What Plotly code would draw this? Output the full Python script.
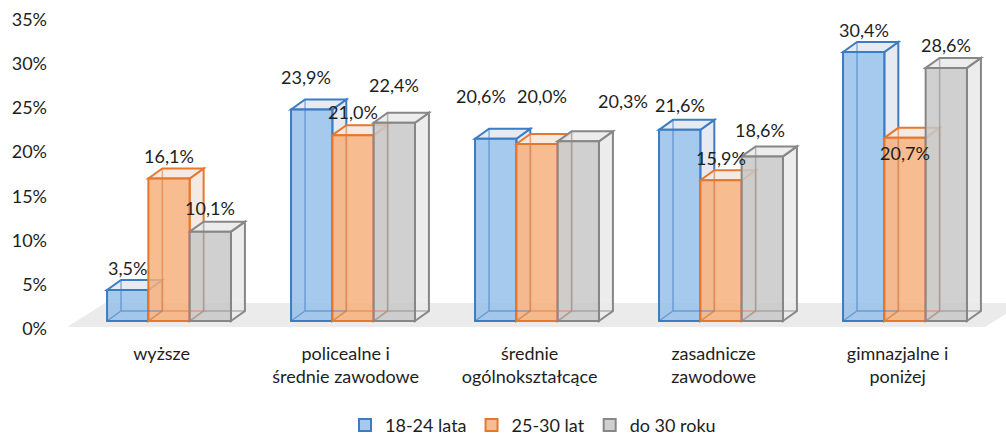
import plotly.graph_objects as go

# ---------------- data ----------------
categories = [
    "wyższe",
    "policealne i<br>średnie zawodowe",
    "średnie<br>ogólnokształcące",
    "zasadnicze<br>zawodowe",
    "gimnazjalne i<br>poniżej",
]
series_names = ["18-24 lata", "25-30 lat", "do 30 roku"]
values_18_24 = [3.5, 23.9, 20.6, 21.6, 30.4]
values_25_30 = [16.1, 21.0, 20.0, 15.9, 20.7]
values_do_30 = [10.1, 22.4, 20.3, 18.6, 28.6]
y_tick_values = [0, 5, 10, 15, 20, 25, 30, 35]

series_values = [values_18_24, values_25_30, values_do_30]

# ---------------- style ----------------
FONT = "Lato, 'Open Sans', sans-serif"
TXT = "#1e1e1e"
front_colors = ["rgba(150,192,235,0.85)", "rgba(246,176,124,0.85)", "rgba(200,200,200,0.85)"]
edge_colors = ["#3B7CC4", "#E8772E", "#878787"]
face_colors = ["rgba(228,233,240,0.9)", "rgba(244,232,224,0.9)", "rgba(234,234,234,0.9)"]
BAR_W = 0.2245        # bar width in category units
DX, DY = 0.076, 1.13  # 3D depth offset (x units, % units)
FLOOR_DX, FLOOR_DY = 0.2065, 2.71
# manual data-label offsets in pixels (as placed in the original)
label_dx = [[0, -6, -15, 0, 0], [0, 0, 5, 0, 0], [0, 0, 45, -2, 0]]
label_dy = [[22, 33, 43, 25, 22], [23, 23, 48, 22, -15], [24, 38, 40, 26, 23]]

n = len(categories)
fig = go.Figure()
shapes = []
annotations = []

# floor
fx0, fx1 = -0.554, n - 1 + 0.435
fy0 = -0.68
shapes.append(dict(
    type="path", xref="x", yref="y", layer="below",
    path=f"M {fx0},{fy0} L {fx1},{fy0} L {fx1 + FLOOR_DX},{fy0 + FLOOR_DY} "
         f"L {fx0 + FLOOR_DX},{fy0 + FLOOR_DY} Z",
    fillcolor="#EBEBEB", line=dict(width=0),
))

for k, (name, vals) in enumerate(zip(series_names, series_values)):
    off = -1.5 * BAR_W + k * BAR_W
    fig.add_trace(go.Bar(
        x=list(range(n)), y=vals, name=name,
        width=BAR_W, offset=off,
        marker=dict(color=front_colors[k], line=dict(color=edge_colors[k], width=2)),
        hoverinfo="skip",
    ))

# 3D decorations, drawn left to right inside each group
for i in range(n):
    for k, vals in enumerate(series_values):
        v = vals[i]
        x0 = i - 1.5 * BAR_W + k * BAR_W
        x1 = x0 + BAR_W
        ec = edge_colors[k]
        # side face
        shapes.append(dict(
            type="path", xref="x", yref="y", layer="below",
            path=f"M {x1},0 L {x1 + DX},{DY} L {x1 + DX},{v + DY} L {x1},{v} Z",
            fillcolor=face_colors[k], line=dict(color=ec, width=2),
        ))
        # top face
        shapes.append(dict(
            type="path", xref="x", yref="y", layer="below",
            path=f"M {x0},{v} L {x0 + DX},{v + DY} L {x1 + DX},{v + DY} L {x1},{v} Z",
            fillcolor=face_colors[k], line=dict(color=ec, width=2),
        ))
        # hidden back edges seen through the front face
        shapes.append(dict(
            type="path", xref="x", yref="y", layer="above", opacity=0.55,
            path=f"M {x0},0 L {x0 + DX},{DY} L {x1 + DX},{DY} "
                 f"M {x0 + DX},{DY} L {x0 + DX},{v + DY}",
            line=dict(color=ec, width=1.5),
        ))
        # data label
        annotations.append(dict(
            x=(x0 + x1) / 2, y=v, xref="x", yref="y",
            text=f"{v:.1f}%".replace(".", ","), showarrow=False,
            xanchor="center", yanchor="middle",
            xshift=label_dx[k][i], yshift=label_dy[k][i],
            font=dict(family=FONT, size=18, color=TXT),
        ))

fig.update_layout(
    width=1006, height=445,
    margin=dict(l=60, r=0, t=5, b=105, autoexpand=False),
    paper_bgcolor="white", plot_bgcolor="white",
    barmode="overlay",
    font=dict(family=FONT, size=18, color=TXT),
    shapes=shapes, annotations=annotations,
    showlegend=True,
    legend=dict(
        orientation="h", x=0.5, xanchor="center", y=-0.310, yanchor="bottom",
        font=dict(family=FONT, size=18, color=TXT), traceorder="normal",
        itemwidth=30, tracegroupgap=0,
    ),
    xaxis=dict(
        range=[-0.5924, 4.549], tickvals=[i - 0.04 for i in range(n)],
        ticktext=categories, showgrid=False, zeroline=False, showline=False,
        ticks="", ticklabelstandoff=1, fixedrange=True, automargin=False,
        tickfont=dict(size=18),
    ),
    yaxis=dict(
        range=[-2.147, 35.71], tickvals=[t - 0.9 for t in y_tick_values],
        ticktext=[f"{t}%" for t in y_tick_values], showgrid=False,
        zeroline=False, showline=False, ticks="", ticklabelstandoff=12,
        fixedrange=True, automargin=False, tickfont=dict(size=18),
    ),
)

fig.write_html(
    "out.html",
    config={"displayModeBar": False},
    post_script="document.body.style.margin='0';document.body.style.overflow='hidden';",
)
